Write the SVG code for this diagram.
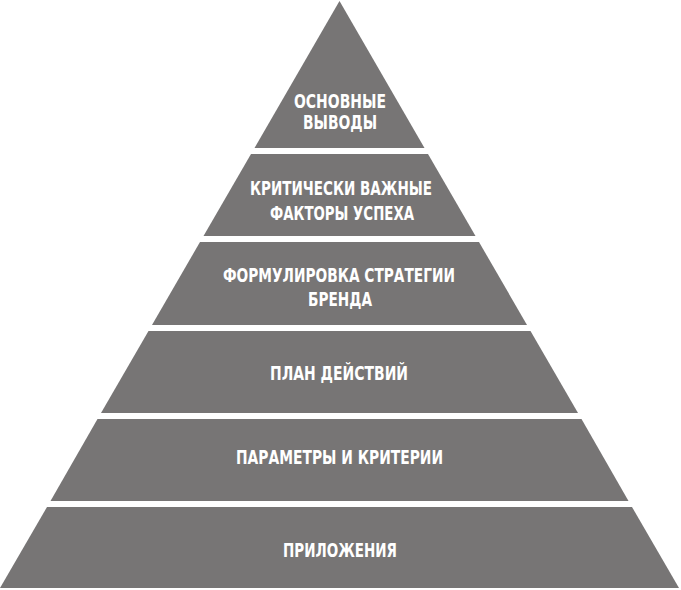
<svg xmlns="http://www.w3.org/2000/svg" width="681" height="590" viewBox="0 0 681 590">
<style>
.layer{fill:#777575;}
.lbl{fill:#ffffff;font-family:"DejaVu Sans Condensed","DejaVu Sans","Liberation Sans",sans-serif;font-stretch:condensed;font-weight:bold;font-size:19px;text-anchor:middle;}
</style>
<rect width="681" height="590" fill="#ffffff"/>
<g id="layer1">
<polygon class="layer" points="339.5,1 424.5,148 254.5,148"/>
<text class="lbl" x="340" y="108" textLength="92" lengthAdjust="spacingAndGlyphs">ОСНОВНЫЕ</text>
<text class="lbl" x="340" y="129" textLength="74" lengthAdjust="spacingAndGlyphs">ВЫВОДЫ</text>
</g>
<g id="layer2">
<polygon class="layer" points="251,154 428,154 475.5,236 203.5,236"/>
<text class="lbl" x="341" y="195" textLength="182" lengthAdjust="spacingAndGlyphs">КРИТИЧЕСКИ ВАЖНЫЕ</text>
<text class="lbl" x="342" y="220" textLength="144" lengthAdjust="spacingAndGlyphs">ФАКТОРЫ УСПЕХА</text>
</g>
<g id="layer3">
<polygon class="layer" points="200,242 479,242 527,325 152,325"/>
<text class="lbl" x="339" y="282" textLength="232" lengthAdjust="spacingAndGlyphs">ФОРМУЛИРОВКА СТРАТЕГИИ</text>
<text class="lbl" x="340" y="306" textLength="64" lengthAdjust="spacingAndGlyphs">БРЕНДА</text>
</g>
<g id="layer4">
<polygon class="layer" points="148.5,331 530.5,331 578,413 101,413"/>
<text class="lbl" x="339" y="380" textLength="138" lengthAdjust="spacingAndGlyphs">ПЛАН ДЕЙСТВИЙ</text>
</g>
<g id="layer5">
<polygon class="layer" points="97.5,419 581.5,419 628.5,501 50.5,501"/>
<text class="lbl" x="339.5" y="464" textLength="207" lengthAdjust="spacingAndGlyphs">ПАРАМЕТРЫ И КРИТЕРИИ</text>
</g>
<g id="layer6">
<polygon class="layer" points="47,507 632,507 679,588 0,588"/>
<text class="lbl" x="340" y="557" textLength="114" lengthAdjust="spacingAndGlyphs">ПРИЛОЖЕНИЯ</text>
</g>
<g id="connectors"></g>
</svg>
